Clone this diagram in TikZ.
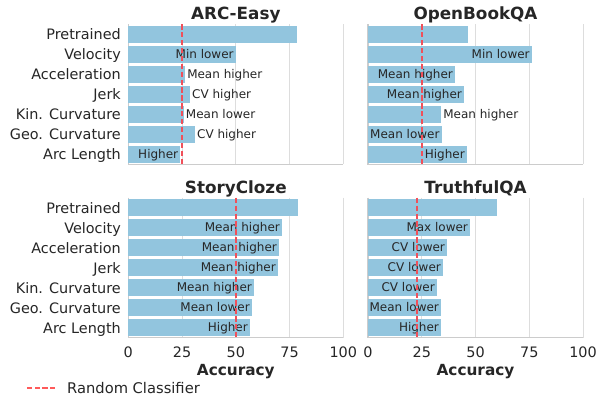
\documentclass[tikz,border=0pt]{standalone}
\usepackage{fontspec}
\setmainfont{DejaVu Sans}
\definecolor{barc}{HTML}{92C5DE}
\definecolor{txt}{HTML}{262626}
\definecolor{gridc}{HTML}{DDDDDD}
\definecolor{spinec}{HTML}{CCCCCC}
\definecolor{randc}{RGB}{240,80,90}
\definecolor{legc}{RGB}{255,90,90}
\tikzset{
  gridl/.style={draw=gridc, line width=1pt},
  spinel/.style={draw=spinec, line width=1.2pt},
  randl/.style={draw=randc, line width=1.5pt, dash pattern=on 5.3pt off 2.6pt},
  barlab/.style={text=txt, inner sep=0pt, font=\fontsize{12}{14}\selectfont},
  ticklab/.style={text=txt, inner sep=0pt, font=\fontsize{14.4}{17}\selectfont},
  titlelab/.style={text=txt, inner sep=0pt, font=\fontsize{16.8}{20}\selectfont\bfseries},
  axlab/.style={text=txt, inner sep=0pt, font=\fontsize{15.3}{18}\selectfont\bfseries},
}
% #1 x0, #2 ytop, #3 title, #4 random value, #5 panel id, #6 data i/value/label/inside
\newcommand{\drawpanel}[6]{%
  \foreach \g in {25,50,75,100} \draw[gridl] ({#1+2.15*\g},#2) -- ({#1+2.15*\g},{#2+140});
  \draw[spinel] (#1,#2) -- (#1,{#2+140}) -- ({#1+215},{#2+140});
  \foreach \i/\v/\lab/\side in {#6} {
    \fill[barc] (#1,{#2+10+20*\i-8.3}) rectangle ({#1+2.15*\v},{#2+10+20*\i+8.3});
    \ifnum\side=1
      \node[barlab, anchor=base east] (#5b\i) at ({#1+2.15*\v-2},{#2+10+20*\i+4}) {\lab};
    \else
      \node[barlab, anchor=base west] (#5b\i) at ({#1+2.15*\v+2},{#2+10+20*\i+4}) {\lab};
    \fi
  }
  \coordinate (#5rt) at ({#1+2.15*#4},#2);
  \coordinate (#5rb) at ({#1+2.15*#4},{#2+140});
  \draw[randl] (#5rt) -- (#5rb);
  \node[titlelab, anchor=base] (#5t) at ({#1+107.5},{#2-4.5}) {#3};
}
\begin{document}
\begin{tikzpicture}[x=1pt,y=-1pt]
\useasboundingbox (0,0) rectangle (597,401);
\fill[white] (0,0) rectangle (597,401);
% y tick labels
\foreach \i/\lab in {0/Pretrained,1/Velocity,2/Acceleration,3/Jerk,4/Kin. Curvature,5/Geo. Curvature,6/Arc Length} {
  \node[ticklab, anchor=base east] (ya\i) at (121,{34.3+20*\i+5.5}) {\lab};
  \node[ticklab, anchor=base east] (yb\i) at (121,{207.7+20*\i+5.5}) {\lab};
}
\drawpanel{128.3}{24.3}{ARC-Easy}{25}{p1}{0/78.3/{}/1,1/50/Min lower/1,2/26.4/Mean higher/0,3/28.7/CV higher/0,4/25.8/Mean lower/0,5/31/CV higher/0,6/24.2/Higher/1}
\drawpanel{368}{24.3}{OpenBookQA}{25}{p2}{0/46.5/{}/1,1/76.2/Min lower/1,2/40.5/Mean higher/1,3/44.7/Mean higher/1,4/34/Mean higher/0,5/34.3/Mean lower/1,6/46/Higher/1}
\drawpanel{128.3}{197.7}{StoryCloze}{50}{p3}{0/78.8/{}/1,1/71.5/Mean higher/1,2/70.1/Mean higher/1,3/69.6/Mean higher/1,4/58.5/Mean higher/1,5/57.5/Mean lower/1,6/56.6/Higher/1}
\drawpanel{368}{197.7}{TruthfulQA}{22.7}{p4}{0/60/{}/1,1/47.5/Max lower/1,2/36.8/CV lower/1,3/34.9/CV lower/1,4/32.1/CV lower/1,5/34/Mean lower/1,6/34/Higher/1}
% x tick labels
\foreach \g in {0,25,50,75,100} {
  \node[ticklab, anchor=base] (xa\g) at ({128.3+2.15*\g},357.7) {\g};
  \node[ticklab, anchor=base] (xb\g) at ({368+2.15*\g},357.7) {\g};
}
\node[axlab, anchor=base] (xla) at (235.8,375.7) {Accuracy};
\node[axlab, anchor=base] (xlb) at (475.5,375.7) {Accuracy};
% legend
\foreach \k in {0,1,2,3}
  \fill[legc] ({26.7+7.8*\k},386.8) rectangle ({26.7+7.8*\k+5.3},388.6);
\node[ticklab, anchor=base west, font=\fontsize{14.7}{17}\selectfont] (lgt) at (67,393.3) {Random Classifier};
\end{tikzpicture}
\end{document}
